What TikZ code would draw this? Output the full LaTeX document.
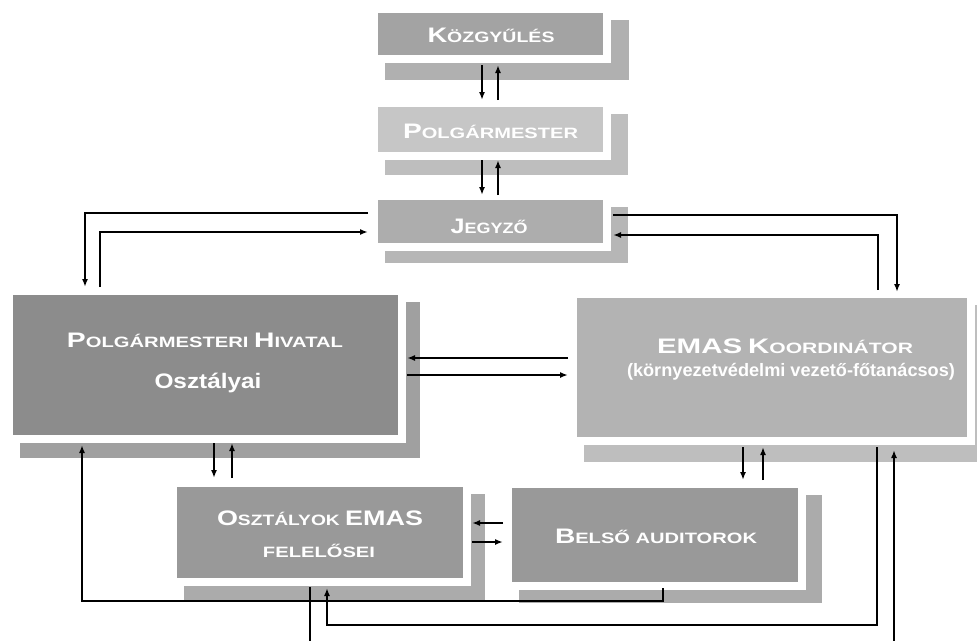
\documentclass[tikz,border=0pt]{standalone}
\usepackage{fontspec}
\usepackage{graphicx}
\setmainfont{Liberation Sans}
\usetikzlibrary{arrows.meta,calc}
\newcommand{\Bg}[1]{{\fontsize{21}{21}\selectfont #1}}
\newcommand{\Sm}[1]{{\fontsize{15}{15}\selectfont #1}}
\newcommand{\fitw}[2]{\resizebox{#1}{\height}{#2}}
\newcommand{\shadowat}[7]{%
  \fill[#7] (#1+7,#2+7) rectangle (#5,#6);
  \fill[white] (#1,#2) rectangle (#3+8,#4+8);}
\definecolor{cKgy}{HTML}{A3A3A3}
\definecolor{cPm}{HTML}{C6C6C6}
\definecolor{cJz}{HTML}{ADADAD}
\definecolor{cHiv}{HTML}{8C8C8C}
\definecolor{cEmas}{HTML}{B3B3B3}
\definecolor{cOsz}{HTML}{999999}
\definecolor{cBel}{HTML}{999999}
\definecolor{sKgy}{HTML}{B0B0B0}
\definecolor{sPm}{HTML}{BEBEBE}
\definecolor{sJz}{HTML}{B6B6B6}
\definecolor{sHiv}{HTML}{A0A0A0}
\definecolor{sEmas}{HTML}{BEBEBE}
\definecolor{sOsz}{HTML}{ABABAB}
\definecolor{sBel}{HTML}{ABABAB}
\begin{document}
\begin{tikzpicture}[x=1pt,y=-1pt,
  box/.style={draw=none, inner sep=0pt, outer sep=0pt},
  lbl/.style={text=white, inner sep=0pt, anchor=base, font=\fontsize{15}{15}\selectfont\bfseries},
  conn/.style={draw=black, line width=2pt},
  arr/.style={conn, -{Latex[length=8pt,width=6pt]}}]
\useasboundingbox (0,0) rectangle (977,640);
\clip (0,0) rectangle (977,640);
\fill[white] (0,0) rectangle (977,640);
% shadows
\shadowat{378}{13}{603}{55}{629}{80}{sKgy}
\shadowat{378}{107}{603}{152}{628}{175}{sPm}
\shadowat{378}{200}{603}{243}{628}{263}{sJz}
\shadowat{13}{295}{398}{435}{420}{458}{sHiv}
\shadowat{577}{298}{967}{437}{990}{462}{sEmas}
\shadowat{177}{487}{463}{578}{485}{600}{sOsz}
\shadowat{512}{488}{798}{582}{822}{603}{sBel}
% boxes
\node[box, fill=cKgy, minimum width=225pt, minimum height=42pt] (kgy) at (490.5,34) {};
\node[box, fill=cPm, minimum width=225pt, minimum height=45pt] (pm) at (490.5,129.5) {};
\node[box, fill=cJz, minimum width=225pt, minimum height=43pt] (jz) at (490.5,221.5) {};
\node[box, fill=cHiv, minimum width=385pt, minimum height=140pt] (hiv) at (205.5,365) {};
\node[box, fill=cEmas, minimum width=390pt, minimum height=139pt] (emas) at (772,367.5) {};
\node[box, fill=cOsz, minimum width=286pt, minimum height=91pt] (osz) at (320,532.5) {};
\node[box, fill=cBel, minimum width=286pt, minimum height=94pt] (bel) at (655,535) {};
% texts
\node[lbl] (tkgy) at (491,42) {\fitw{127pt}{\Bg{K}\Sm{ÖZGYŰLÉS}}};
\node[lbl] (tpm) at (490.5,138) {\fitw{175pt}{\Bg{P}\Sm{OLGÁRMESTER}}};
\node[lbl] (tjz) at (489,233) {\fitw{77pt}{\Bg{J}\Sm{EGYZŐ}}};
\node[lbl] (thiv1) at (205,347) {\fitw{276pt}{\Bg{P}\Sm{OLGÁRMESTERI} \Bg{H}\Sm{IVATAL}}};
\node[lbl] (thiv2) at (208,388) {\fitw{107pt}{\fontsize{21}{21}\selectfont Osztályai}};
\node[lbl] (temas1) at (785,353) {\fitw{256pt}{\Bg{EMAS} \Bg{K}\Sm{OORDINÁTOR}}};
\node[lbl] (temas2) at (791,376) {\fitw{328pt}{\fontsize{18}{18}\selectfont (környezetvédelmi vezető-főtanácsos)}};
\node[lbl] (tosz1) at (320,525) {\fitw{206pt}{\Bg{O}\Sm{SZTÁLYOK} \Bg{EMAS}}};
\node[lbl] (tosz2) at (319,557) {\fitw{112pt}{\Sm{FELELŐSEI}}};
\node[lbl] (tbel) at (656,543) {\fitw{202pt}{\Bg{B}\Sm{ELSŐ} \Sm{AUDITOROK}}};
% connectors
\draw[arr] ($(kgy.south)+(-8.5,10)$) -- ($(pm.north)+(-8.5,-7)$);
\draw[arr] ($(pm.north)+(7.5,-7)$) -- ($(kgy.south)+(7.5,10)$);
\draw[arr] ($(pm.south)+(-8.5,8)$) -- ($(jz.north)+(-8.5,-5)$);
\draw[arr] ($(jz.north)+(7.5,-5)$) -- ($(pm.south)+(7.5,8)$);
\draw[arr] ($(jz.west)+(-10,-8.5)$) -| ($(hiv.north)+(-120.5,-8)$);
\draw[arr] ($(hiv.north)+(-105.5,-8)$) |- ($(jz.west)+(-10,10.5)$);
\draw[arr] ($(jz.east)+(10,-6.5)$) -| ($(emas.north)+(125,-6)$);
\draw[arr] ($(emas.north)+(106,-8)$) |- ($(jz.east)+(10,13.5)$);
\draw[arr] ($(emas.west)+(-9,-9.5)$) -- ($(hiv.east)+(9,-7)$);
\draw[arr] ($(hiv.east)+(9,10)$) -- ($(emas.west)+(-9,7.5)$);
\draw[arr] ($(hiv.south)+(8.5,8)$) -- ($(osz.north)+(-106,-9)$);
\draw[arr] ($(osz.north)+(-88,-9)$) -- ($(hiv.south)+(26.5,8)$);
\draw[arr] ($(emas.south)+(-29,10)$) -- ($(bel.north)+(88,-8)$);
\draw[arr] ($(bel.north)+(108,-8)$) -- ($(emas.south)+(-9,10)$);
\draw[arr] ($(bel.west)+(-9,-12)$) -- ($(osz.east)+(9,-9.5)$);
\draw[arr] ($(osz.east)+(9,9.5)$) -- ($(bel.west)+(-9,7)$);
\draw[arr] ($(bel.south)+(8,6)$) |- ($(hiv.south)+(-123.5,166)$) -- ($(hiv.south)+(-123.5,10)$);
\draw[arr] ($(osz.south)+(-10,9)$) |- ($(emas.south)+(122,223)$) -- ($(emas.south)+(122,13)$);
\draw[arr] ($(emas.south)+(105,10)$) |- ($(osz.south)+(7,47)$) -- ($(osz.south)+(7,10)$);
\end{tikzpicture}
\end{document}
